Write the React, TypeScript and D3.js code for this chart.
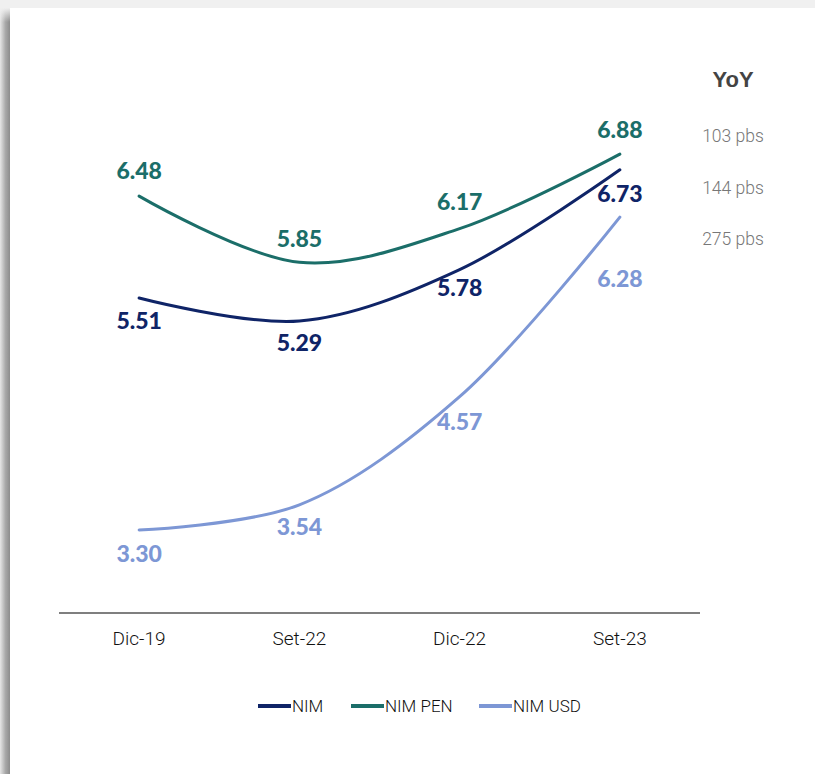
import React, { useEffect, useRef } from 'react';
import * as d3 from 'd3';

const periods = ['Dic-19', 'Set-22', 'Dic-22', 'Set-23'];
const nim = [5.51, 5.29, 5.78, 6.73];
const nimPen = [6.48, 5.85, 6.17, 6.88];
const nimUsd = [3.3, 3.54, 4.57, 6.28];
const yoyLabels = ['103 pbs', '144 pbs', '275 pbs'];
const legendNames = ['NIM', 'NIM PEN', 'NIM USD'];

const W = 815;
const H = 774;

const App: React.FC = () => {
  const ref = useRef<SVGSVGElement | null>(null);

  useEffect(() => {
    if (!ref.current) return;
    const svg = d3.select(ref.current);
    svg.selectAll('*').remove();

    // page background + card with left shadow
    const defs = svg.append('defs');
    const grad = defs.append('linearGradient').attr('id', 'edge').attr('x1', 0).attr('x2', 1).attr('y1', 0).attr('y2', 0);
    grad.append('stop').attr('offset', '0%').attr('stop-color', '#e6e6e6');
    grad.append('stop').attr('offset', '55%').attr('stop-color', '#a8a8a8');
    grad.append('stop').attr('offset', '100%').attr('stop-color', '#8c8c8c');
    const vgrad = defs.append('linearGradient').attr('id', 'edgeTop').attr('x1', 0).attr('x2', 0).attr('y1', 0).attr('y2', 1);
    vgrad.append('stop').attr('offset', '0%').attr('stop-color', '#f0f0f0').attr('stop-opacity', 1);
    vgrad.append('stop').attr('offset', '100%').attr('stop-color', '#f0f0f0').attr('stop-opacity', 0);

    svg.append('rect').attr('width', W).attr('height', H).attr('fill', '#f0f0f0');
    svg.append('rect').attr('x', 0).attr('y', 8).attr('width', 10).attr('height', H - 8).attr('fill', 'url(#edge)');
    svg.append('rect').attr('x', 0).attr('y', 8).attr('width', 10).attr('height', 14).attr('fill', 'url(#edgeTop)');
    svg.append('rect').attr('x', 10).attr('y', 8).attr('width', W - 10).attr('height', H - 8).attr('fill', '#ffffff');

    const x = d3.scalePoint<string>().domain(periods).range([59, 700]).padding(0.5);
    const y = d3.scaleLinear().domain([2.5, 7.0]).range([614, 141.5]);

    // x axis
    svg.append('line')
      .attr('x1', 59).attr('x2', 700)
      .attr('y1', 613).attr('y2', 613)
      .attr('stroke', '#555').attr('stroke-width', 1.5);

    svg.append('g')
      .selectAll('text')
      .data(periods)
      .enter().append('text')
      .attr('x', d => x(d) as number)
      .attr('y', 645)
      .attr('text-anchor', 'middle')
      .attr('font-family', 'Roboto, sans-serif')
      .attr('font-weight', 300)
      .attr('font-size', 19)
      .attr('fill', '#111')
      .text(d => d);

    const series = [
      { name: legendNames[0], values: nim, color: '#0f2467', dy: [31, 30, 26, 32] },
      { name: legendNames[1], values: nimPen, color: '#1b6e69', dy: [-17, -15, -19, -16] },
      { name: legendNames[2], values: nimUsd, color: '#7d97d5', dy: [32, 30, 33, 70] },
    ];

    const line = d3.line<number>()
      .x((_, i) => x(periods[i]) as number)
      .y(d => y(d))
      .curve(d3.curveCatmullRom.alpha(0.5));

    series.forEach(s => {
      svg.append('path')
        .attr('d', line(s.values) as string)
        .attr('fill', 'none')
        .attr('stroke', s.color)
        .attr('stroke-width', 3)
        .attr('stroke-linecap', 'round');

      svg.append('g')
        .selectAll('text')
        .data(s.values)
        .enter().append('text')
        .attr('x', (_, i) => x(periods[i]) as number)
        .attr('y', (d, i) => y(d) + s.dy[i])
        .attr('text-anchor', 'middle')
        .attr('font-family', 'Lato, sans-serif')
        .attr('font-weight', 900)
        .attr('font-size', 23)
        .attr('fill', s.color)
        .text(d => d.toFixed(2));
    });

    // YoY column
    svg.append('text')
      .attr('x', 733).attr('y', 87)
      .attr('text-anchor', 'middle')
      .attr('font-family', '"Liberation Sans", Arial, sans-serif')
      .attr('font-weight', 700)
      .attr('font-size', 22)
      .attr('fill', '#444')
      .text('YoY');

    svg.append('g')
      .selectAll('text')
      .data(yoyLabels)
      .enter().append('text')
      .attr('x', 733)
      .attr('y', (_, i) => 142 + i * 51.5)
      .attr('text-anchor', 'middle')
      .attr('font-family', 'Roboto, sans-serif')
      .attr('font-weight', 300)
      .attr('font-size', 17.5)
      .attr('fill', '#777')
      .text(d => d);

    // legend
    const legendX = [258, 351, 479];
    const lg = svg.append('g');
    series.forEach((s, i) => {
      lg.append('line')
        .attr('x1', legendX[i]).attr('x2', legendX[i] + 33)
        .attr('y1', 706).attr('y2', 706)
        .attr('stroke', s.color).attr('stroke-width', 4);
      lg.append('text')
        .attr('x', legendX[i] + 34)
        .attr('y', 712)
        .attr('font-family', 'Roboto, sans-serif')
        .attr('font-weight', 300)
        .attr('font-size', 17)
        .attr('fill', '#111')
        .text(s.name);
    });
  }, []);

  return (
    <div style={{ position: 'absolute', left: 0, top: 0 }}>
      <svg ref={ref} width={W} height={H} />
    </div>
  );
};

export default App;
